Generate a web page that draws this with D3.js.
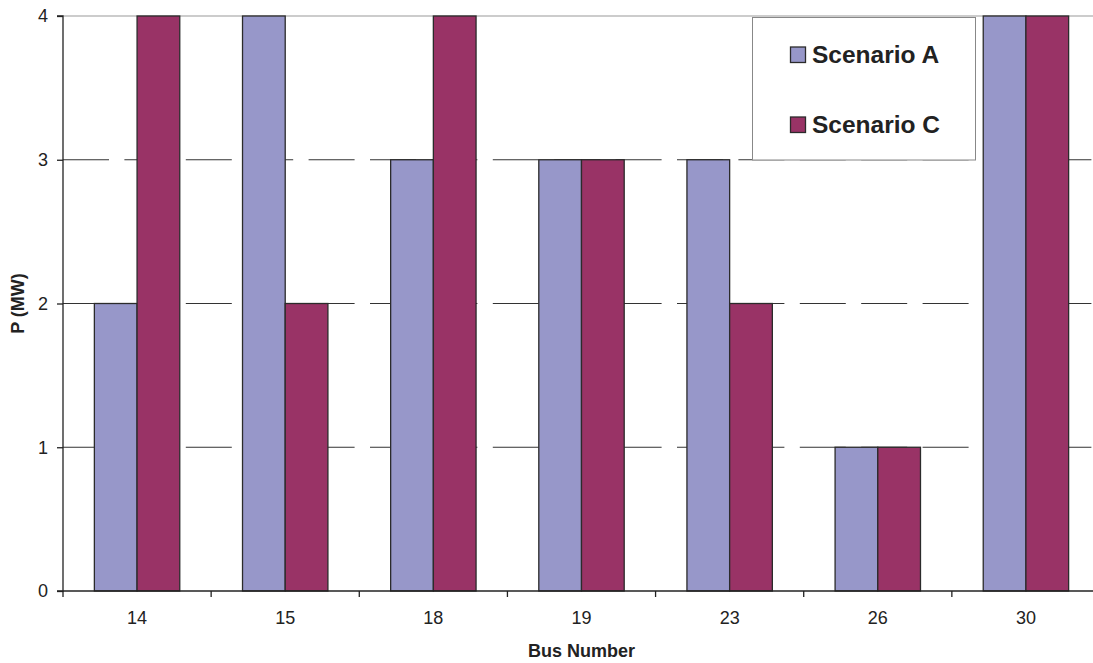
<!DOCTYPE html>
<html><head><meta charset="utf-8">
<script src="https://cdn.jsdelivr.net/npm/d3@7"></script>
<style>body{margin:0;background:#fff}svg{display:block}text{font-family:"Liberation Sans",Arial,sans-serif}</style>
</head><body>
<svg id="c" width="1093" height="663"></svg>
<script>
const categories = ["14","15","18","19","23","26","30"];
const seriesNames = ["Scenario A","Scenario C"];
const scenarioA = [2,4,3,3,3,1,4];
const scenarioC = [4,2,4,3,2,1,4];
const yTicks = [0,1,2,3,4];
const colors = ["#9797C9","#993366"];

const svg = d3.select("#c");
const L=63, R=1100, T=16, B=591;
const x = d3.scaleBand().domain(categories).range([L,R]);
const y = d3.scaleLinear().domain([0,4]).range([B,T]);
const barW = 42.7;

// gridlines
svg.append("g").selectAll("line").data(yTicks.filter(d=>d>0&&d<4)).join("line")
  .attr("x1",L).attr("x2",R).attr("y1",d=>y(d)).attr("y2",d=>y(d))
  .attr("stroke","#333").attr("stroke-width",1).attr("stroke-dasharray","46,15.4");
svg.append("line").attr("x1",L).attr("x2",R).attr("y1",y(4)).attr("y2",y(4))
  .attr("stroke","#999").attr("stroke-width",1);

// bars
const data = categories.map((c,i)=>({c, vals:[scenarioA[i],scenarioC[i]]}));
const g = svg.append("g");
data.forEach(d=>{
  d.vals.forEach((v,j)=>{
    const cx = x(d.c)+x.bandwidth()/2;
    g.append("rect")
      .attr("x", cx - barW + j*barW).attr("y", y(v))
      .attr("width", barW).attr("height", y(0)-y(v))
      .attr("fill", colors[j]).attr("stroke","#2b2b2b").attr("stroke-width",1.3);
  });
});

// axes
const yAxis = d3.axisLeft(y).tickValues(yTicks).tickSize(6).tickPadding(9).tickFormat(d3.format("d"));
const ya = svg.append("g").attr("transform",`translate(${L},0)`).call(yAxis);
ya.select(".domain").attr("stroke","#222").attr("stroke-width",1.3).attr("d",`M-6,${B}H0V${T}H-6`);
ya.selectAll(".tick line").attr("stroke","#222").attr("stroke-width",1.3);
ya.selectAll("text").attr("font-size",18).attr("fill","#222").style("font-family","Liberation Sans, Arial");

const xAxis = d3.axisBottom(x).tickSize(0).tickPadding(20);
const xa = svg.append("g").attr("transform",`translate(0,${B})`).call(xAxis);
xa.select(".domain").attr("stroke","#222").attr("stroke-width",1.3).attr("d",`M${L},0H${R}`);
xa.selectAll("text").attr("font-size",18).attr("fill","#222").style("font-family","Liberation Sans, Arial");
// category boundary ticks
svg.append("g").selectAll("line").data(categories.map(c=>x(c)).concat([R])).join("line")
  .attr("x1",d=>d).attr("x2",d=>d).attr("y1",B).attr("y2",B+6)
  .attr("stroke","#222").attr("stroke-width",1.3);

// axis titles
svg.append("text").attr("x",(L+R)/2).attr("y",657).attr("text-anchor","middle")
  .attr("font-size",18).attr("font-weight","bold").attr("fill","#222").text("Bus Number");
svg.append("text").attr("transform",`translate(24,${(T+B)/2}) rotate(-90)`).attr("text-anchor","middle")
  .attr("font-size",18).attr("font-weight","bold").attr("fill","#222").text("P (MW)");

// legend
const lg = svg.append("g");
lg.append("rect").attr("x",752.5).attr("y",17.5).attr("width",223).attr("height",142.5)
  .attr("fill","#fff").attr("stroke","#888").attr("stroke-width",1);
seriesNames.forEach((s,i)=>{
  const yy = [47,117][i];
  lg.append("rect").attr("x",790.5).attr("y",yy).attr("width",15).attr("height",15.5)
    .attr("fill",colors[i]).attr("stroke","#2b2b2b").attr("stroke-width",1.3);
  lg.append("text").attr("x",812).attr("y",yy+16).attr("font-size",24.5).attr("font-weight","bold")
    .attr("fill","#222").text(s);
});
</script>
</body></html>
